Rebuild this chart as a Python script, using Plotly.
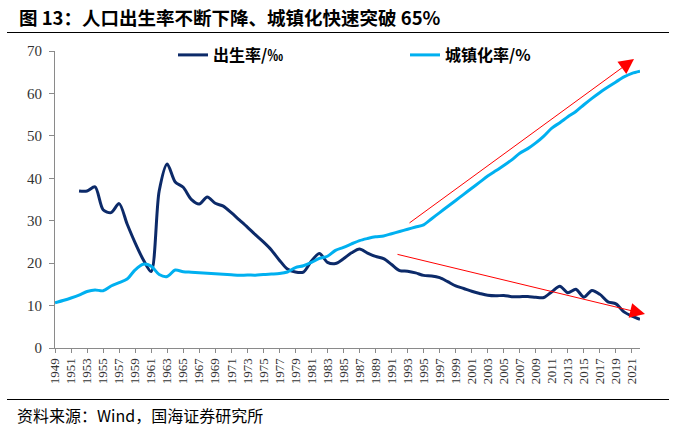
import plotly.graph_objects as go

years = list(range(1949, 2023))

birth_rate = [None, None, None,
              37.00, 37.00, 37.97, 32.60, 31.90, 34.03, 29.22, 24.78, 20.86,
              18.02, 37.01, 43.37, 39.14, 37.88, 35.05, 33.96, 35.59, 34.11, 33.43,
              31.90, 30.20, 28.50, 26.70, 25.00, 23.10, 20.70, 18.60, 17.90, 17.90,
              20.50, 22.28, 20.19, 19.90, 21.04, 22.43, 23.33, 22.37, 21.58, 21.06,
              19.68, 18.24, 18.09, 17.70, 17.12, 16.98, 16.57, 15.64, 14.64, 14.03,
              13.38, 12.86, 12.41, 12.29, 12.40, 12.09, 12.10, 12.14, 11.95, 11.90,
              13.27, 14.57, 13.03, 13.83, 11.99, 13.57, 12.64, 10.86, 10.41, 8.52,
              7.52, 6.77]

urban_rate = [10.64, 11.18, 11.78, 12.46, 13.31, 13.69, 13.48, 14.62, 15.39, 16.25,
              18.41, 19.75, 19.29, 17.33, 16.84, 18.37, 17.98, 17.86, 17.74, 17.62,
              17.50, 17.38, 17.26, 17.13, 17.20, 17.16, 17.34, 17.44, 17.55, 17.92,
              18.96, 19.39, 20.16, 21.13, 21.62, 23.01, 23.71, 24.52, 25.32, 25.81,
              26.21, 26.41, 26.94, 27.46, 27.99, 28.51, 29.04, 30.48, 31.91, 33.35,
              34.78, 36.22, 37.66, 39.09, 40.53, 41.76, 42.99, 44.34, 45.89, 46.99,
              48.34, 49.95, 51.83, 53.10, 54.49, 55.75, 57.33, 58.84, 60.24, 61.50,
              62.71, 63.89, 64.72, 65.22]

x_ticks = list(range(1949, 2022, 2))
y_ticks = list(range(0, 71, 10))

title_text = "<b>图 13：人口出生率不断下降、城镇化快速突破 65%</b>"
source_text = "资料来源：Wind，国海证券研究所"
name_birth = "<b>出生率/‰</b>"
name_urban = "<b>城镇化率/%</b>"

W, H = 676, 430
L, R, T, B = 55, 36, 51, 82
PW, PH = W - L - R, H - T - B


def px(xp):
    return (xp - L) / PW


def py(yp):
    return (H - B - yp) / PH


fig = go.Figure()
fig.add_trace(go.Scatter(x=years, y=birth_rate, mode="lines", name=name_birth,
                         line=dict(color="#0c2a69", width=3, shape="spline", smoothing=0.8),
                         connectgaps=False))
fig.add_trace(go.Scatter(x=years, y=urban_rate, mode="lines", name=name_urban,
                         line=dict(color="#00b0f0", width=3, shape="spline", smoothing=0.8)))

axis_col = "#8a8a8a"
fig.update_xaxes(range=[1949, 2022], tickmode="array", tickvals=x_ticks,
                 ticktext=[str(v) for v in x_ticks], tickangle=-90,
                 showline=True, linecolor=axis_col, linewidth=1,
                 ticks="outside", ticklen=4, tickcolor=axis_col,
                 showgrid=False, zeroline=False,
                 tickfont=dict(family="Liberation Serif", size=13, color="#333333"))
fig.update_yaxes(range=[0, 70], tickmode="array", tickvals=y_ticks,
                 showline=True, linecolor=axis_col, linewidth=1,
                 ticks="outside", ticklen=5, tickcolor=axis_col,
                 showgrid=False, zeroline=False, ticklabelstandoff=4,
                 tickfont=dict(family="Liberation Serif", size=15, color="#333333"))

# arrows (decorations)
arrows = [((408, 224), (634, 59)), ((396, 254), (645, 314))]
for (tx, ty), (hx, hy) in arrows:
    fig.add_annotation(xref="paper", yref="paper", x=px(hx), y=py(hy),
                       ax=tx - hx, ay=ty - hy, axref="pixel", ayref="pixel",
                       showarrow=True, arrowhead=2, arrowsize=3, arrowwidth=1,
                       arrowcolor="#ff0000", text="")

fig.add_annotation(xref="paper", yref="paper", x=px(17), y=py(17), xanchor="left",
                   yanchor="middle", text=title_text, showarrow=False,
                   font=dict(family="Noto Sans CJK SC", size=18.5, color="#000000"))
fig.add_annotation(xref="paper", yref="paper", x=px(15), y=py(415), xanchor="left",
                   yanchor="middle", text=source_text, showarrow=False,
                   font=dict(family="Noto Sans CJK SC", size=16, color="#000000"))

fig.add_shape(type="line", xref="paper", yref="paper", x0=px(7), x1=px(669),
              y0=py(32.5), y1=py(32.5), line=dict(color="#000000", width=1.2))
fig.add_shape(type="line", xref="paper", yref="paper", x0=px(7), x1=px(669),
              y0=py(399.5), y1=py(399.5), line=dict(color="#000000", width=1.2))

fig.update_layout(
    width=W, height=H,
    margin=dict(l=L, r=R, t=T, b=B, autoexpand=False),
    paper_bgcolor="white", plot_bgcolor="white",
    showlegend=True,
    legend=dict(orientation="h", x=px(173), y=py(55), xanchor="left", yanchor="middle",
                entrywidth=187, entrywidthmode="pixels",
                font=dict(family="Noto Sans CJK SC", size=16, color="#000000"),
                bgcolor="rgba(0,0,0,0)", borderwidth=0),
)

fig.write_html("out.html", config={"displayModeBar": False},
               post_script="document.body.style.margin='0px';document.body.style.overflow='hidden';")
